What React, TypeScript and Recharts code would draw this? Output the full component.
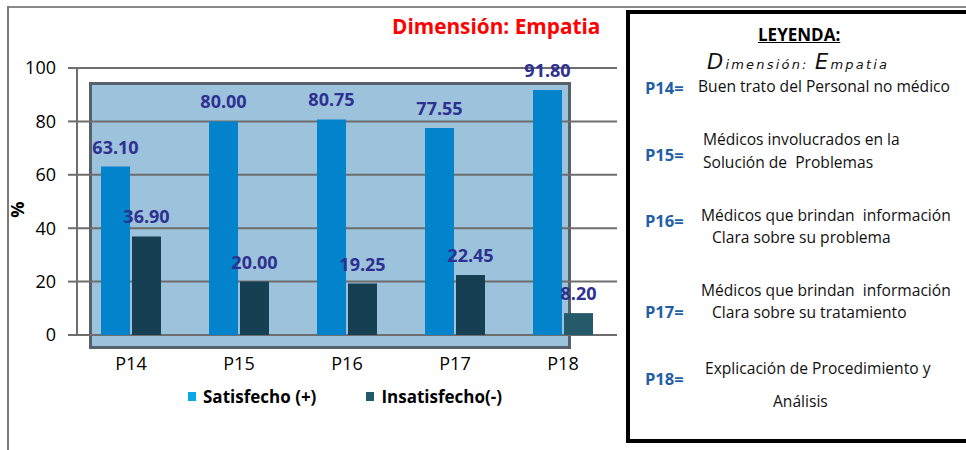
import { Bar, BarChart, CartesianGrid, Cell, LabelList, Legend, XAxis, YAxis } from 'recharts';

// Dimensión: Empatia — porcentaje de usuarios satisfechos / insatisfechos
const categories = ['P14', 'P15', 'P16', 'P17', 'P18'];
const satisfecho = [63.1, 80.0, 80.75, 77.55, 91.8];
const insatisfecho = [36.9, 20.0, 19.25, 22.45, 8.2];
const yTicks = [0, 20, 40, 60, 80, 100];

const leyenda = [
  { code: 'P14=', lines: ['Buen trato del Personal no médico'] },
  { code: 'P15=', lines: ['Médicos involucrados en la', 'Solución de  Problemas'] },
  { code: 'P16=', lines: ['Médicos que brindan  información', 'Clara sobre su problema'] },
  { code: 'P17=', lines: ['Médicos que brindan  información', 'Clara sobre su tratamiento'] },
  { code: 'P18=', lines: ['Explicación de Procedimiento y', 'Análisis'] },
];

const data = categories.map((name, i) => ({
  name,
  satisfecho: satisfecho[i],
  insatisfecho: insatisfecho[i],
}));

const FONT = '"Open Sans", "Noto Sans", sans-serif';
const BLUE = '#0283cc';
const DARK = '#163f54';
const LABEL = '#2e3192';

// positions of the legend-box rows (code, then each text line)
const rowLayout = [
  { codeY: 88, lines: [{ x: 698, y: 86 }] },
  { codeY: 155, lines: [{ x: 703, y: 139 }, { x: 703, y: 162 }] },
  { codeY: 221, lines: [{ x: 701, y: 215 }, { x: 712, y: 237 }] },
  { codeY: 312, lines: [{ x: 701, y: 290 }, { x: 712, y: 312 }] },
  { codeY: 379, lines: [{ x: 705, y: 368 }, { x: 773, y: 401 }] },
];

const legendItems = [
  { label: 'Satisfecho (+)', color: '#0aa9e8' },
  { label: 'Insatisfecho(-)', color: '#22596a' },
];

const SeriesLegend = () => (
  <div style={{ display: 'flex', alignItems: 'center', paddingLeft: 188, fontFamily: FONT, fontWeight: 700, fontSize: 17, color: '#000' }}>
    {legendItems.map((it, i) => (
      <div key={it.label} style={{ display: 'flex', alignItems: 'center', marginRight: i === 0 ? 50 : 0 }}>
        <span style={{ width: 8, height: 9, background: it.color, marginRight: 7, display: 'inline-block' }} />
        <span>{it.label}</span>
      </div>
    ))}
  </div>
);

const fmt = (v: any) => Number(v).toFixed(2);

// script-style subtitle: big capitals, small spaced lowercase
const Cap = ({ c }: { c: string }) => <span style={{ fontSize: 21 }}>{c}</span>;

export default function App() {
  return (
    <div style={{ position: 'absolute', left: 0, top: 0, width: 966, height: 450, background: '#fff', overflow: 'hidden', fontFamily: FONT }}>
      {/* outer frame lines */}
      <div style={{ position: 'absolute', left: 7, top: 6, width: 960, height: 2, background: '#8a8a8a' }} />
      <div style={{ position: 'absolute', left: 7, top: 6, width: 2, height: 450, background: '#7a7a7a' }} />

      {/* plot background panel */}
      <div style={{ position: 'absolute', left: 89, top: 82, width: 476, height: 261, background: '#9dc2db', border: '3px solid #566169' }} />

      <div style={{ position: 'absolute', left: 392, top: 12, fontSize: 20.8, fontWeight: 700, color: '#ff0000', whiteSpace: 'nowrap' }}>
        Dimensión: Empatia
      </div>

      <div style={{ position: 'absolute', left: 0, top: 0 }}>
        <BarChart
          width={620}
          height={450}
          data={data}
          margin={{ top: 68, right: 3, left: 17, bottom: 62 }}
          barSize={29}
          barGap={2}
        >
          <CartesianGrid vertical={false} stroke="#6e6e6e" strokeWidth={2} />
          <XAxis
            dataKey="name"
            axisLine={false}
            tickLine={false}
            tickSize={0}
            tickMargin={22}
            height={30}
            tick={{ fill: '#000', fontSize: 18, fontFamily: FONT }}
          />
          <YAxis
            domain={[0, 100]}
            ticks={yTicks}
            width={60}
            tickSize={9}
            tickMargin={12}
            axisLine={{ stroke: '#6e6e6e', strokeWidth: 2 }}
            tickLine={{ stroke: '#6e6e6e', strokeWidth: 2 }}
            tick={{ fill: '#000', fontSize: 18, fontFamily: FONT }}
            label={{ value: '%', angle: 90, position: 'insideLeft', offset: 0, style: { fill: '#000', fontSize: 18, fontWeight: 700, fontFamily: FONT } }}
          />
          <Legend
            verticalAlign="bottom"
            content={SeriesLegend}
            wrapperStyle={{ left: 0, width: 620, top: 385 }}
          />
          <Bar dataKey="satisfecho" name="Satisfecho (+)" fill={BLUE} isAnimationActive={false}>
            <LabelList dataKey="satisfecho" position="top" offset={13} formatter={fmt}
              style={{ fill: LABEL, fontSize: 18, fontWeight: 700, fontFamily: FONT }} />
          </Bar>
          <Bar dataKey="insatisfecho" name="Insatisfecho(-)" fill={DARK} isAnimationActive={false}>
            {data.map((d, i) => (
              <Cell key={d.name} fill={i === data.length - 1 ? '#245a6a' : DARK} />
            ))}
            <LabelList dataKey="insatisfecho" position="top" offset={13} formatter={fmt}
              style={{ fill: LABEL, fontSize: 18, fontWeight: 700, fontFamily: FONT }} />
          </Bar>
        </BarChart>
      </div>

      {/* LEYENDA box */}
      <div style={{ position: 'absolute', left: 626, top: 10, width: 345, height: 433, border: '4px solid #000', boxSizing: 'border-box' }} />
      <div style={{ position: 'absolute', left: 758, top: 24, fontSize: 17, fontWeight: 700, textDecoration: 'underline', lineHeight: '22px', color: '#000' }}>
        LEYENDA:
      </div>
      <div style={{ position: 'absolute', left: 707, top: 50, fontSize: 13, fontStyle: 'italic', fontWeight: 200, letterSpacing: 2.2, lineHeight: '24px', fontFamily: '"DejaVu Sans", sans-serif', color: '#111', whiteSpace: 'nowrap' }}>
        <Cap c="D" />imensión: <Cap c="E" />mpatia
      </div>
      {leyenda.map((row, i) => (
        <div key={row.code}>
          <div style={{ position: 'absolute', left: 645, top: rowLayout[i].codeY - 11, fontSize: 16.5, fontWeight: 700, color: '#1f5fa8', lineHeight: '22px' }}>
            {row.code}
          </div>
          {row.lines.map((line, j) => (
            <div key={j} style={{ position: 'absolute', left: rowLayout[i].lines[j].x, top: rowLayout[i].lines[j].y - 11, fontSize: 15.6, color: '#111', lineHeight: '22px', whiteSpace: 'pre' }}>
              {line}
            </div>
          ))}
        </div>
      ))}
    </div>
  );
}
